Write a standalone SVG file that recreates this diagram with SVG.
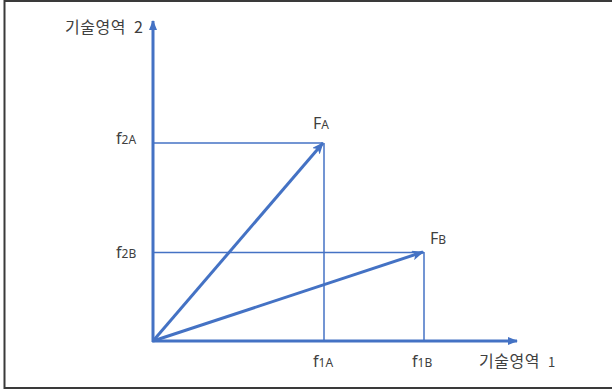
<svg xmlns="http://www.w3.org/2000/svg" width="612" height="390" viewBox="0 0 612 390">
<style>
.lbl{font-family:"Noto Sans","Noto Sans CJK KR",sans-serif;fill:#404040;font-size:16px}
.sub{font-size:12px}
.kr{font-family:"Noto Sans CJK KR",sans-serif;fill:#404040;font-size:16px;letter-spacing:0.5px;word-spacing:4px}
.axis{stroke:#4472C4;stroke-width:3;fill:none}
.vec{stroke:#4472C4;stroke-width:3;fill:none}
.proj{stroke:#4472C4;stroke-width:1.5;fill:none}
</style>
<defs>
<marker id="ah" markerWidth="10" markerHeight="8" refX="9" refY="4" orient="auto" markerUnits="userSpaceOnUse">
<path d="M0,0 L10,4 L0,8 Z" fill="#4472C4"/>
</marker>
<marker id="vh" markerWidth="12" markerHeight="10" refX="11" refY="5" orient="auto" markerUnits="userSpaceOnUse">
<path d="M0,0 L12,5 L0,10 L3,5 Z" fill="#4472C4"/>
</marker>
</defs>
<rect width="612" height="390" fill="#ffffff"/>
<g id="frame" stroke="#3a3a3a" stroke-width="2" fill="none">
<path d="M4.5,389 V1 H612"/>
<path d="M4,388 H612"/>
</g>
<g id="connectors">
<line class="proj" x1="153" y1="143" x2="323" y2="143"/>
<line class="proj" x1="324" y1="143" x2="324" y2="341"/>
<line class="proj" x1="153" y1="252.5" x2="424" y2="252.5"/>
<line class="proj" x1="424" y1="252" x2="424" y2="341"/>
<line class="vec" x1="153" y1="341" x2="323" y2="143" marker-end="url(#vh)"/>
<line class="vec" x1="153" y1="341" x2="423" y2="252" marker-end="url(#vh)"/>
<line class="axis" x1="153" y1="342" x2="153" y2="21" marker-end="url(#ah)"/>
<line class="axis" x1="152" y1="341" x2="517" y2="341" marker-end="url(#ah)"/>
</g>
<g id="axis2-label"><text class="kr" x="65" y="33">기술영역 2</text></g>
<g id="axis1-label"><text class="kr" x="479" y="367">기술영역 <tspan font-size="13">1</tspan></text></g>
<g id="f2A"><text class="lbl" x="116" y="144">f<tspan class="sub">2A</tspan></text></g>
<g id="f2B"><text class="lbl" x="116" y="258">f<tspan class="sub">2B</tspan></text></g>
<g id="f1A"><text class="lbl" x="313" y="367">f<tspan class="sub">1A</tspan></text></g>
<g id="f1B"><text class="lbl" x="412" y="367">f<tspan class="sub">1B</tspan></text></g>
<g id="FA"><text class="lbl" x="313" y="129" font-size="17">F<tspan class="sub">A</tspan></text></g>
<g id="FB"><text class="lbl" x="430" y="244" font-size="17">F<tspan class="sub">B</tspan></text></g>
</svg>
